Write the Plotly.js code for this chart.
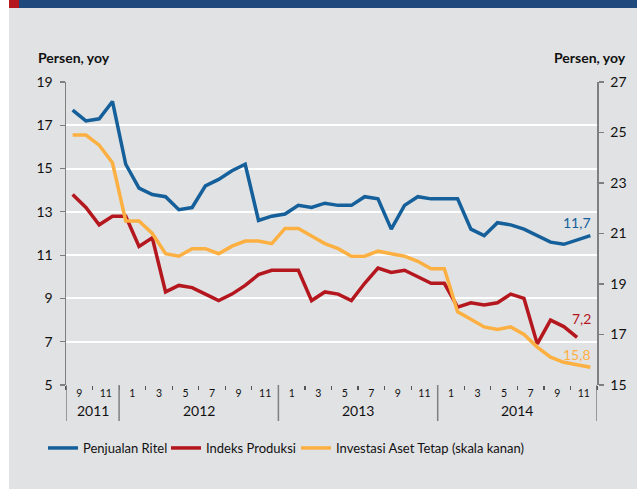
<!DOCTYPE html>
<html>
<head>
<meta charset="utf-8">
<script src="https://cdn.plot.ly/plotly-3.0.1.min.js"></script>
<style>
  html, body { margin: 0; padding: 0; background: #ffffff; }
  #chart { width: 637px; height: 489px; }
</style>
</head>
<body>
<div id="chart"></div>
<script>
// Months Sep 2011 .. Dec 2014
const periods = ["2011-09","2011-10","2011-11","2011-12",
  "2012-01","2012-02","2012-03","2012-04","2012-05","2012-06","2012-07","2012-08","2012-09","2012-10","2012-11","2012-12",
  "2013-01","2013-02","2013-03","2013-04","2013-05","2013-06","2013-07","2013-08","2013-09","2013-10","2013-11","2013-12",
  "2014-01","2014-02","2014-03","2014-04","2014-05","2014-06","2014-07","2014-08","2014-09","2014-10","2014-11","2014-12"];

const penjualanRitel = [17.7, 17.2, 17.3, 18.1, 15.2, 14.1, 13.8, 13.7, 13.1, 13.2, 14.2, 14.5, 14.9, 15.2, 12.6, 12.8,
  12.9, 13.3, 13.2, 13.4, 13.3, 13.3, 13.7, 13.6, 12.2, 13.3, 13.7, 13.6, 13.6, 13.6, 12.2, 11.9,
  12.5, 12.4, 12.2, 11.9, 11.6, 11.5, 11.7, 11.9];

const indeksProduksi = [13.8, 13.2, 12.4, 12.8, 12.8, 11.4, 11.8, 9.3, 9.6, 9.5, 9.2, 8.9, 9.2, 9.6, 10.1, 10.3,
  10.3, 10.3, 8.9, 9.3, 9.2, 8.9, 9.7, 10.4, 10.2, 10.3, 10.0, 9.7, 9.7, 8.6, 8.8, 8.7,
  8.8, 9.2, 9.0, 6.9, 8.0, 7.7, 7.2, null];

const investasiAsetTetap = [24.9, 24.9, 24.5, 23.8, 21.5, 21.5, 21.0, 20.2, 20.1, 20.4, 20.4, 20.2, 20.5, 20.7, 20.7, 20.6,
  21.2, 21.2, 20.9, 20.6, 20.4, 20.1, 20.1, 20.3, 20.2, 20.1, 19.9, 19.6, 19.6, 17.9, 17.6, 17.3,
  17.2, 17.3, 17.0, 16.5, 16.1, 15.9, 15.8, 15.7];

const monthTickLabels = ["9","11","1","3","5","7","9","11","1","3","5","7","9","11","1","3","5","7","9","11"];
const yearLabels = ["2011","2012","2013","2014"];
const seriesNames = ["Penjualan Ritel","Indeks Produksi","Investasi Aset Tetap (skala kanan)"];
const endLabels = ["11,7","7,2","15,8"];

const colors = ["#15609a", "#b5171f", "#fdb042"];
const FONT = "Lato, 'Open Sans', sans-serif";

const xIdx = periods.map((p, i) => i);
// labels sit between pairs of months (odd month + following even month)
const monthTickVals = monthTickLabels.map((t, k) => 2 * k + 0.5);
// year segments (in month-index units)
const yearStart = [-0.5, 3.5, 15.5, 27.5];
const yearEnd = [3.5, 15.5, 27.5, 39.5];

const W = 637, H = 489, ML = 66, MR = 40, MT = 82, MB = 104;
const PW = W - ML - MR, PH = H - MT - MB;
const px = x => (x - ML) / PW;          // pixel -> paper x
const py = y => (MT + PH - y) / PH;     // pixel -> paper y

const legendNames = ["legend", "legend2", "legend3"];
const traces = [
  { x: xIdx, y: penjualanRitel, name: seriesNames[0], type: "scatter", mode: "lines",
    line: { color: colors[0], width: 3.5 }, yaxis: "y", legend: legendNames[0] },
  { x: xIdx, y: indeksProduksi, name: seriesNames[1], type: "scatter", mode: "lines",
    line: { color: colors[1], width: 3.5 }, yaxis: "y", legend: legendNames[1] },
  { x: xIdx, y: investasiAsetTetap, name: seriesNames[2], type: "scatter", mode: "lines",
    line: { color: colors[2], width: 3.5 }, yaxis: "y2", legend: legendNames[2] }
];

const shapes = [
  // gray panel
  { type: "rect", xref: "paper", yref: "paper", x0: px(9), x1: px(W + 5), y0: py(H + 5), y1: py(8),
    fillcolor: "#e1e2e4", line: { width: 0 }, layer: "below" },
  // top bar
  { type: "rect", xref: "paper", yref: "paper", x0: px(19), x1: px(W + 5), y0: py(8), y1: py(-5),
    fillcolor: "#1f497d", line: { width: 0 }, layer: "below" },
  { type: "rect", xref: "paper", yref: "paper", x0: px(9), x1: px(19), y0: py(8), y1: py(-5),
    fillcolor: "#b5171f", line: { width: 0 }, layer: "below" }
];
// year separators
yearStart.concat([yearEnd[yearEnd.length - 1]]).forEach(v => {
  shapes.push({ type: "line", xref: "x", yref: "paper", x0: v, x1: v, y0: 0, y1: py(421),
    line: { color: "#7f7f7f", width: 1.5 } });
});

const annotations = [
  { xref: "paper", yref: "paper", x: px(36), y: py(57), xanchor: "left", yanchor: "middle",
    text: "<b>Persen, yoy</b>", showarrow: false, font: { family: FONT, size: 14, color: "#111" } },
  { xref: "paper", yref: "paper", x: px(628), y: py(57), xanchor: "right", yanchor: "middle",
    text: "<b>Persen, yoy</b>", showarrow: false, font: { family: FONT, size: 14, color: "#111" } },
  { xref: "x", yref: "y", x: 38, y: penjualanRitel[38] + 0.8, text: endLabels[0], showarrow: false,
    font: { family: FONT, size: 14, color: colors[0] } },
  { xref: "x", yref: "y", x: 38.3, y: indeksProduksi[38] + 0.85, text: endLabels[1], showarrow: false,
    font: { family: FONT, size: 14, color: colors[1] } },
  { xref: "x", yref: "y2", x: 38, y: investasiAsetTetap[38] + 0.4, text: endLabels[2], showarrow: false,
    font: { family: FONT, size: 14, color: colors[2] } }
];
yearLabels.forEach((t, k) => {
  annotations.push({ xref: "x", yref: "paper", x: (yearStart[k] + yearEnd[k]) / 2, y: py(410),
    yanchor: "middle", text: t, showarrow: false, font: { family: FONT, size: 14, color: "#111" } });
});

const legendBase = { orientation: "h", y: py(448), xanchor: "left", yanchor: "middle",
  bgcolor: "rgba(0,0,0,0)", font: { family: FONT, size: 13, color: "#111" }, itemwidth: 30 };
const legendTextStarts = [81, 204, 334];

const layout = {
  width: W, height: H,
  margin: { l: ML, r: MR, t: MT, b: MB, pad: 0 },
  paper_bgcolor: "#ffffff",
  plot_bgcolor: "rgba(0,0,0,0)",
  font: { family: FONT, color: "#111" },
  showlegend: true,
  xaxis: {
    range: [-0.5, 39.5], showgrid: false, zeroline: false, showline: false,
    tickmode: "array", tickvals: monthTickVals, ticktext: monthTickLabels,
    ticks: "", ticklen: 0, tickfont: { family: FONT, size: 10.5, color: "#111" },
    minor: { tick0: 1.5, dtick: 2, ticks: "outside", ticklen: 4, tickwidth: 1.2, tickcolor: "#555", showgrid: false },
    fixedrange: true
  },
  yaxis: {
    range: [5, 19], dtick: 2, tick0: 5, showgrid: true, gridcolor: "#ffffff", gridwidth: 2,
    zeroline: false, showline: true, linecolor: "#7f7f7f", linewidth: 1.5,
    ticks: "outside", ticklen: 5, tickcolor: "#7f7f7f", tickwidth: 1.2,
    tickfont: { family: FONT, size: 14, color: "#111" }, ticklabelstandoff: 4, fixedrange: true
  },
  yaxis2: {
    range: [15, 27], dtick: 2, tick0: 15, overlaying: "y", side: "right", showgrid: false,
    zeroline: false, showline: true, linecolor: "#7f7f7f", linewidth: 1.5,
    ticks: "outside", ticklen: 5, tickcolor: "#7f7f7f", tickwidth: 1.2,
    tickfont: { family: FONT, size: 14, color: "#111" }, ticklabelstandoff: 4, fixedrange: true
  },
  shapes: shapes,
  annotations: annotations
};
legendNames.forEach((ln, k) => {
  layout[ln] = Object.assign({}, legendBase, { x: px(legendTextStarts[k] - 38) });
});

Plotly.newPlot("chart", traces, layout, { displayModeBar: false, staticPlot: true });
</script>
</body>
</html>
